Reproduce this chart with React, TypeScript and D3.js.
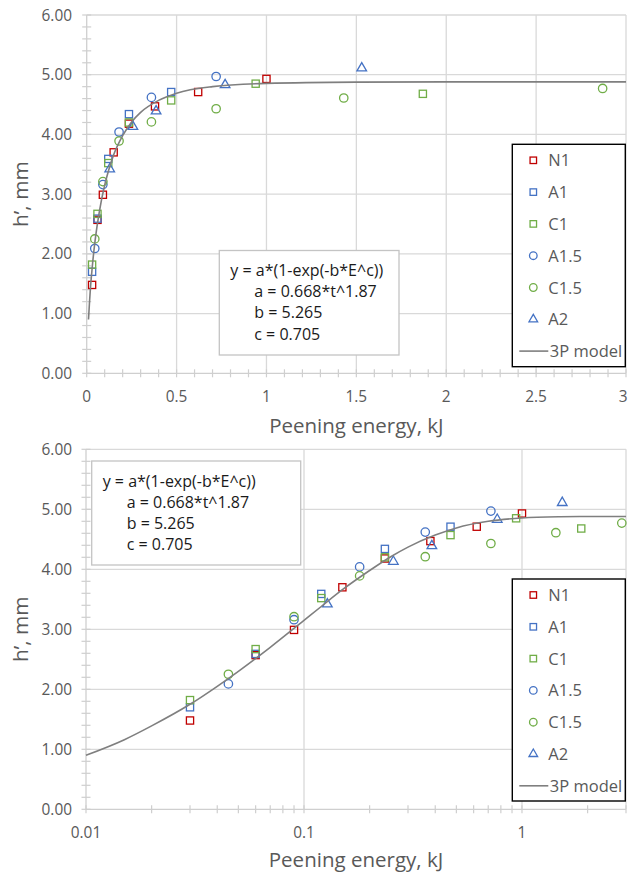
import React from "react";
import * as d3 from "d3";

// ---------- data ----------
const n1E = [0.03, 0.06, 0.09, 0.15, 0.235, 0.38, 0.62, 1.0];
const n1H = [1.48, 2.57, 2.99, 3.7, 4.18, 4.47, 4.71, 4.93];
const a1E = [0.03, 0.06, 0.12, 0.235, 0.47];
const a1H = [1.7, 2.59, 3.59, 4.34, 4.71];
const c1E = [0.03, 0.06, 0.12, 0.235, 0.47, 0.94, 1.87];
const c1H = [1.82, 2.67, 3.52, 4.2, 4.57, 4.85, 4.68];
const a15E = [0.045, 0.09, 0.18, 0.36, 0.72];
const a15H = [2.09, 3.16, 4.04, 4.62, 4.97];
const c15E = [0.045, 0.09, 0.18, 0.36, 0.72, 1.43, 2.87];
const c15H = [2.25, 3.21, 3.89, 4.21, 4.43, 4.61, 4.77];
const a2E = [0.128, 0.257, 0.386, 0.77, 1.53];
const a2H = [3.42, 4.13, 4.39, 4.83, 5.11];

const modelE = [0.01, 0.015, 0.02, 0.03, 0.04, 0.05, 0.07, 0.1, 0.12, 0.15, 0.2, 0.25, 0.3, 0.4, 0.5, 0.7, 1, 1.5, 2, 3];
const modelH = [0.9, 1.16, 1.39, 1.75, 2.05, 2.3, 2.7, 3.15, 3.38, 3.66, 3.98, 4.21, 4.37, 4.57, 4.69, 4.8, 4.855, 4.876, 4.88, 4.88];

const seriesNames = ["N1", "A1", "C1", "A1.5", "C1.5", "A2"];
const modelName = "3P model";
const equationLines = ["y = a*(1-exp(-b*E^c))", "a = 0.668*t^1.87", "b = 5.265", "c = 0.705"];
const yTickValues = [0, 1, 2, 3, 4, 5, 6];
const linXTicks = [0, 0.5, 1, 1.5, 2, 2.5, 3];
const linXLabels = ["0", "0.5", "1", "1.5", "2", "2.5", "3"];
const logXTicks = [0.01, 0.1, 1];
const logXLabels = ["0.01", "0.1", "1"];
const xTitle = "Peening energy, kJ";
const yTitle = "h\u2019, mm";

const RED = "#C00000";
const BLUE = "#4472C4";
const GREEN = "#70AD47";
const GRID = "#d9d9d9";
const AXIS = "#cfcfcf";
const TXT = "#595959";
const FONT = "'Open Sans', sans-serif";

const series = [
  { name: seriesNames[0], E: n1E, H: n1H, color: RED, shape: "square" },
  { name: seriesNames[1], E: a1E, H: a1H, color: BLUE, shape: "square" },
  { name: seriesNames[2], E: c1E, H: c1H, color: GREEN, shape: "square" },
  { name: seriesNames[3], E: a15E, H: a15H, color: BLUE, shape: "circle" },
  { name: seriesNames[4], E: c15E, H: c15H, color: GREEN, shape: "circle" },
  { name: seriesNames[5], E: a2E, H: a2H, color: BLUE, shape: "triangle" },
];

function Marker({ shape, x, y, color, scale = 1 }: any) {
  const sw = 1.3;
  if (shape === "square") {
    const s = 7.2 * scale;
    return <rect x={x - s / 2} y={y - s / 2} width={s} height={s} fill="none" stroke={color} strokeWidth={sw} />;
  }
  if (shape === "circle") {
    return <circle cx={x} cy={y} r={4.2 * scale} fill="none" stroke={color} strokeWidth={sw} />;
  }
  const p = d3.symbol().type(d3.symbolTriangle).size(40 * scale * scale)();
  return <path d={p || ""} transform={`translate(${x},${y})`} fill="none" stroke={color} strokeWidth={sw} />;
}

function Chart({ x, y, xMajor, xLabels, xMinor, left, right, top, bottom, legend, eq, titleY }: any) {
  const yMinor = d3.range(0, 6.0001, 0.2);
  const line = d3
    .line<number>()
    .x((_, i) => x(modelE[i]))
    .y((d) => y(d))
    .curve(d3.curveMonotoneX);
  return (
    <g>
      {/* gridlines */}
      {yTickValues.slice(1).map((v) => (
        <line key={"gy" + v} x1={left} x2={right} y1={y(v)} y2={y(v)} stroke={GRID} strokeWidth={1.3} />
      ))}
      {xMajor.slice(1).map((v: number) => (
        <line key={"gx" + v} x1={x(v)} x2={x(v)} y1={top} y2={bottom} stroke={GRID} strokeWidth={1.3} />
      ))}
      {/* axes */}
      <line x1={left} x2={left} y1={top} y2={bottom} stroke={AXIS} strokeWidth={1.3} />
      <line x1={left} x2={right} y1={bottom} y2={bottom} stroke={AXIS} strokeWidth={1.3} />
      {yMinor.map((v, i) => (
        <line key={"ym" + i} x1={left - 4.5} x2={left + 4.5} y1={y(v)} y2={y(v)} stroke={AXIS} strokeWidth={1.2} />
      ))}
      {xMinor.map((v: number, i: number) => (
        <line key={"xm" + i} x1={x(v)} x2={x(v)} y1={bottom - 4} y2={bottom + 4} stroke={AXIS} strokeWidth={1.2} />
      ))}
      {/* tick labels */}
      {yTickValues.map((v) => (
        <text key={"yl" + v} x={72} y={y(v) + 5.5} textAnchor="end" fontSize={15.4} fill={TXT} fontFamily={FONT}>
          {v.toFixed(2)}
        </text>
      ))}
      {xMajor.map((v: number, i: number) => {
        const px = x(v);
        const atEdge = px > 622;
        return (
          <text
            key={"xl" + i}
            x={atEdge ? 627.5 : px}
            y={bottom + 28.7}
            textAnchor={atEdge ? "end" : "middle"}
            fontSize={15.4}
            fill={TXT}
            fontFamily={FONT}
          >
            {xLabels[i]}
          </text>
        );
      })}
      <text x={(left + right) / 2} y={titleY} textAnchor="middle" fontSize={20.5} fill={TXT} fontFamily={FONT}>
        {xTitle}
      </text>
      <text
        transform={`translate(28,${(top + bottom) / 2}) rotate(-90)`}
        textAnchor="middle"
        fontSize={20.8}
        fill={TXT}
        fontFamily={FONT}
      >
        {yTitle}
      </text>
      {/* equation box */}
      <rect x={eq.x} y={eq.y} width={eq.w} height={eq.h} fill="#fff" stroke="#c4c4c4" strokeWidth={1.3} />
      {equationLines.map((t, i) => (
        <text key={"eq" + i} x={eq.x + (i === 0 ? 11 : 35)} y={eq.y + 25.5 + 21.2 * i} fontSize={16} fill="#1a1a1a" fontFamily={FONT}>
          {t}
        </text>
      ))}
      {/* data */}
      {series.map((s) =>
        s.E.map((e, i) => <Marker key={s.name + i} shape={s.shape} x={x(e)} y={y(s.H[i])} color={s.color} />)
      )}
      <path d={line(modelH) || ""} fill="none" stroke="#7f7f7f" strokeWidth={1.6} />
      {/* legend */}
      <rect x={legend.x} y={legend.y} width={legend.w} height={legend.h} fill="#fff" stroke="#000" strokeWidth={1.4} />
      {series.map((s, i) => {
        const cy = legend.y + 16 + 31.8 * i;
        return (
          <g key={"lg" + i}>
            <Marker shape={s.shape} x={legend.x + 21} y={cy} color={s.color} scale={0.9} />
            <text x={legend.x + 36} y={cy + 6} fontSize={16.5} fill={TXT} fontFamily={FONT}>
              {s.name}
            </text>
          </g>
        );
      })}
      {(() => {
        const cy = legend.y + 16 + 31.8 * 6;
        return (
          <g>
            <line x1={legend.x + 7} x2={legend.x + 36} y1={cy} y2={cy} stroke="#7f7f7f" strokeWidth={1.6} />
            <text x={legend.x + 37.5} y={cy + 6} fontSize={16.5} fill={TXT} fontFamily={FONT}>
              {modelName}
            </text>
          </g>
        );
      })()}
    </g>
  );
}

export default function App() {
  const xTop = d3.scaleLinear().domain([0, 3]).range([86.7, 626]);
  const yTop = d3.scaleLinear().domain([0, 6]).range([373.3, 15]);
  const xBot = d3.scaleLog().domain([0.01, 3]).range([86, 626]);
  const yBot = d3.scaleLinear().domain([0, 6]).range([809.3, 449.3]);

  const linMinor = d3.range(0, 3.0001, 0.1);
  const logMinor: number[] = [];
  [0.01, 0.1, 1].forEach((d) => {
    for (let k = 1; k <= 9; k++) {
      const v = d * k;
      if (v <= 3.0001) logMinor.push(v);
    }
  });

  return (
    <svg width={628} height={872} style={{ position: "absolute", left: 0, top: 0, background: "#fff" }}>
      <rect width={628} height={872} fill="#fff" />
      <Chart
        x={xTop}
        y={yTop}
        xMajor={linXTicks}
        xLabels={linXLabels}
        xMinor={linMinor}
        left={86.7}
        right={626}
        top={15}
        bottom={373.3}
        titleY={432.8}
        legend={{ x: 512.3, y: 144.3, w: 113, h: 222.4 }}
        eq={{ x: 219.3, y: 250.5, w: 179.7, h: 104.5 }}
      />
      <Chart
        x={xBot}
        y={yBot}
        xMajor={logXTicks.concat([3])}
        xLabels={logXLabels.concat([""])}
        xMinor={logMinor}
        left={86}
        right={626}
        top={449.3}
        bottom={809.3}
        titleY={866.5}
        legend={{ x: 512.3, y: 579, w: 113, h: 222 }}
        eq={{ x: 91.7, y: 461, w: 209, h: 104 }}
      />
    </svg>
  );
}
